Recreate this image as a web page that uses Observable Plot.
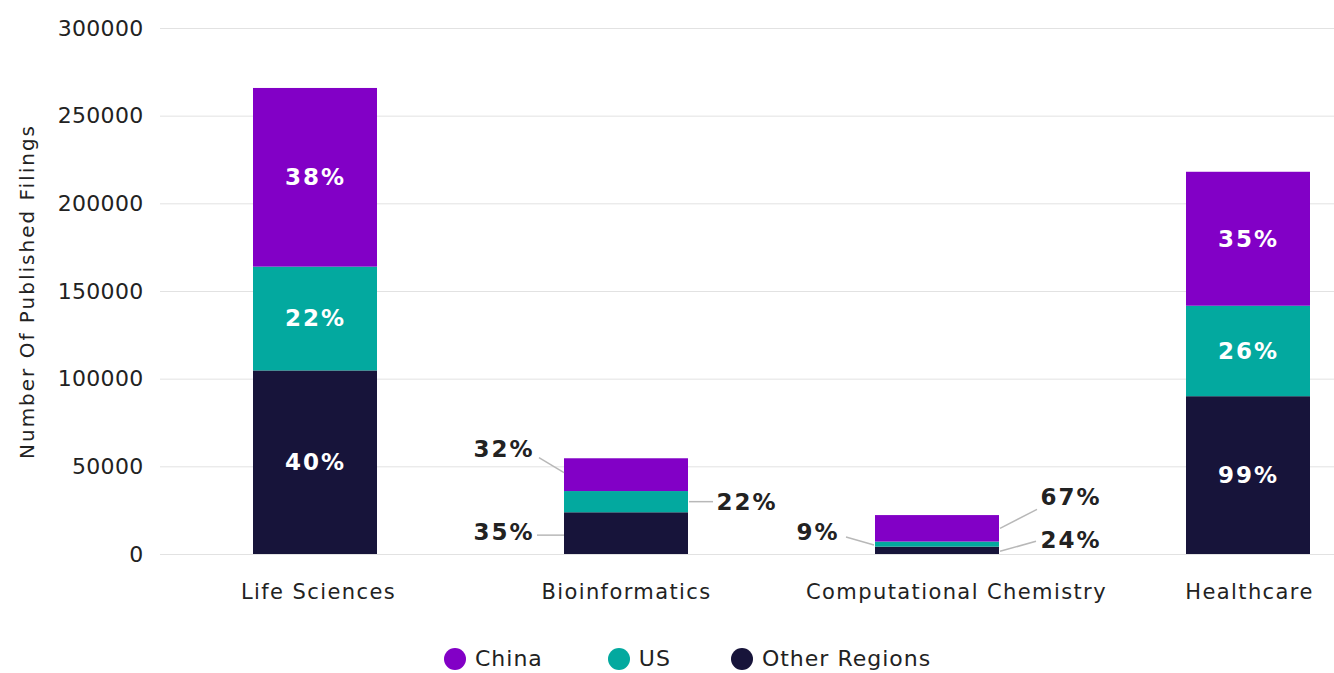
<!DOCTYPE html>
<html>
<head>
<meta charset="utf-8">
<script src="https://cdn.jsdelivr.net/npm/d3@7"></script>
<script src="https://cdn.jsdelivr.net/npm/@observablehq/plot@0.6"></script>
<style>
  html, body { margin: 0; padding: 0; background: #fff; }
  #wrap { position: relative; width: 1334px; height: 673px; overflow: hidden; font-family: "DejaVu Sans", sans-serif; }
  #chart svg { display: block; }
  #chart [aria-description="xlabel"] text { letter-spacing: 1.4px; }
  #chart [aria-label="y-axis tick label"] text { letter-spacing: 0.3px; font-size: 22px; }
  #chart [aria-description="pct"] text { letter-spacing: 2px; }
  #chart [aria-description="ylabel"] text { letter-spacing: 2px; }
  #legend { position: absolute; left: 444px; top: 646px; display: flex; align-items: center; font-size: 22px; letter-spacing: 1px; color: #222; }
  .item { display: flex; align-items: center; }
  .sw { width: 22px; height: 22px; border-radius: 50%; margin-right: 9px; }
</style>
</head>
<body>
<div id="wrap">
  <div id="chart"></div>
  <div id="legend"></div>
</div>
<script>
// ---- Data ----
const categories = ["Life Sciences", "Bioinformatics", "Computational Chemistry", "Healthcare"];
const regions = ["Other Regions", "US", "China"]; // stacking order, bottom to top
const legendOrder = ["China", "US", "Other Regions"];
const otherValues = [104700, 23800, 4200, 90000];
const usValues = [59200, 12100, 2900, 51600];
const chinaValues = [101900, 18700, 15100, 76400];
const otherLabels = ["40%", "35%", "24%", "99%"];
const usLabels = ["22%", "22%", "9%", "26%"];
const chinaLabels = ["38%", "32%", "67%", "35%"];
const yTicks = [0, 50000, 100000, 150000, 200000, 250000, 300000];
const insideCategories = ["Life Sciences", "Healthcare"];
const yTitle = "Number Of Published Filings";

// ---- Styles / layout ----
const regionColors = {"China": "#8200C6", "US": "#03A99F", "Other Regions": "#17143A"};
const legendGaps = [65, 60, 0];
const xLabelShift = {"Life Sciences": 3, "Bioinformatics": 0, "Computational Chemistry": 19, "Healthcare": 1};

// Callout layout for small bars (pixel offsets from bar centre / segment middle)
const calloutLayout = {
  "Bioinformatics|China":          {anchor: "end",   dx: -92, dy: -26, line: [-62, -2, -87, -17]},
  "Bioinformatics|US":             {anchor: "start", dx: 90,  dy: 0,   line: [63, 0, 87, 0]},
  "Bioinformatics|Other Regions":  {anchor: "end",   dx: -92, dy: -1,  line: [-62, 2, -89, 2]},
  "Computational Chemistry|China": {anchor: "start", dx: 103, dy: -31, line: [63, 0, 100, -19]},
  "Computational Chemistry|US":    {anchor: "end",   dx: -98, dy: -12, line: [-63, 1, -91, -7]},
  "Computational Chemistry|Other Regions": {anchor: "start", dx: 103, dy: -10, line: [63, 1, 99, -9]}
};

// ---- Build table ----
const valueBy = {"Other Regions": otherValues, "US": usValues, "China": chinaValues};
const labelBy = {"Other Regions": otherLabels, "US": usLabels, "China": chinaLabels};
const rows = [];
categories.forEach((c, i) => {
  let base = 0;
  for (const r of regions) {
    const v = valueBy[r][i];
    rows.push({category: c, region: r, value: v, mid: base + v / 2, label: labelBy[r][i], key: c + "|" + r});
    base += v;
  }
});
const insideRows = rows.filter(d => insideCategories.includes(d.category));
const outsideRows = rows.filter(d => !insideCategories.includes(d.category));

function leaderLines(index, scales) {
  const g = d3.create("svg:g").attr("stroke", "#b8b8b8").attr("stroke-width", 1.5).attr("fill", "none");
  const sx = scales.x, sy = scales.y;
  const bw = typeof sx.bandwidth === "function" ? sx.bandwidth() : 0;
  for (const r of outsideRows) {
    const L = calloutLayout[r.key];
    const cx = sx(r.category) + bw / 2, cy = sy(r.mid);
    g.append("line")
      .attr("x1", cx + L.line[0]).attr("y1", cy + L.line[1])
      .attr("x2", cx + L.line[2]).attr("y2", cy + L.line[3]);
  }
  return g.node();
}

const outsideTextMarks = outsideRows.map(r => {
  const L = calloutLayout[r.key];
  return Plot.text([r], {
    x: "category", y: "mid", text: "label",
    textAnchor: L.anchor, dx: L.dx, dy: L.dy,
    fill: "#222", fontSize: 23, fontWeight: 700, ariaDescription: "pct"
  });
});

const xLabelMarks = categories.map(c => Plot.text([c], {
  x: d => d, text: d => d, frameAnchor: "bottom", dy: 44, dx: xLabelShift[c],
  fontSize: 21, fill: "#222", ariaDescription: "xlabel"
}));

const chart = Plot.plot({
  width: 1334,
  height: 620,
  marginLeft: 160,
  marginRight: 0,
  marginTop: 28,
  marginBottom: 66,
  style: {fontFamily: "'DejaVu Sans', sans-serif", fontSize: "20px", color: "#222", background: "#fff", overflow: "visible"},
  x: {domain: categories, range: [160, 1403.5], paddingInner: 0.6, paddingOuter: 0.296, axis: null},
  y: {domain: [0, 300000], ticks: yTicks, tickFormat: d => String(d), tickSize: 0, tickPadding: 17, label: null},
  color: {domain: regions, range: regions.map(r => regionColors[r])},
  marks: [
    Plot.ruleY(yTicks, {stroke: "#e2e2e2", strokeWidth: 1}),
    Plot.barY(rows, {x: "category", y: "value", fill: "region", order: regions}),
    Plot.text(insideRows, {x: "category", y: "mid", text: "label", fill: "#fff", fontSize: 23, fontWeight: 700, ariaDescription: "pct"}),
    ...outsideTextMarks,
    leaderLines,
    ...xLabelMarks,
    Plot.text([yTitle], {text: d => d, frameAnchor: "left", textAnchor: "middle", rotate: -90, dx: -133, fontSize: 20, fill: "#222", ariaDescription: "ylabel"})
  ]
});
document.getElementById("chart").appendChild(chart);

// ---- Legend ----
const legend = d3.select("#legend");
legendOrder.forEach((r, i) => {
  const it = legend.append("div").attr("class", "item").style("margin-right", legendGaps[i] + "px");
  it.append("div").attr("class", "sw").style("background", regionColors[r]);
  it.append("span").text(r);
});
</script>
</body>
</html>
